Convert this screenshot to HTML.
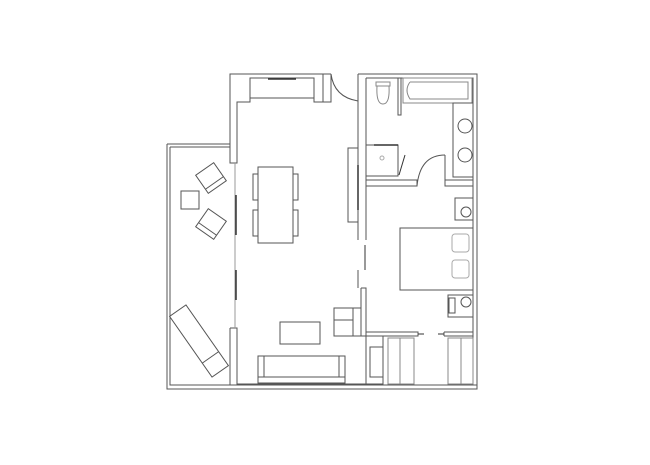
<!DOCTYPE html>
<html><head><meta charset="utf-8"><style>html,body{margin:0;padding:0;background:#fff}svg{display:block}</style></head>
<body>
<svg width="650" height="465" viewBox="0 0 650 465" xmlns="http://www.w3.org/2000/svg">
<g fill="none" stroke="#555" stroke-width="1">
<!-- outer -->
<path d="M167 144 H230 V74 H331"/>
<path d="M358 74 H477 V389 H167 V144"/>
<path d="M170 147 H230 M170 147 V385 H230"/>
<!-- living left wall -->
<path d="M230 74 V163 H237 V102 H250 V78"/>
<path d="M230 328 V385 H237 V328 H230"/>
<path d="M237 385 H383 M237 384 H383"/>
<line x1="235" y1="163" x2="235" y2="328" stroke="#999"/>
<line x1="236" y1="195" x2="236" y2="235" stroke="#333" stroke-width="1.5"/>
<line x1="236" y1="270" x2="236" y2="300" stroke="#333" stroke-width="1.5"/>
<!-- top closet -->
<rect x="250" y="78" width="64" height="20"/>
<line x1="268" y1="79" x2="296" y2="79" stroke="#333" stroke-width="1.5"/>
<path d="M314 78 V102 H323 V78 M323 74 V102 H331 V74"/>
<!-- entry door -->
<path d="M331 74 Q334 97 358 101"/>
<path d="M358 74 V101"/>
<!-- mid wall -->
<path d="M358 74 V240 M366 78 V240"/>
<path d="M358 270 V288 M361 288 V336 H366 V288 H361"/>
<line x1="365" y1="245" x2="365" y2="270" stroke="#333"/>
<rect x="348" y="148" width="10" height="74"/>
<line x1="358" y1="165" x2="358" y2="210" stroke="#333" stroke-width="1.5"/>
<!-- bathroom -->
<path d="M366 78 H473 V384"/>
<path d="M398 78 V115 H401 V78"/>
<path d="M366 180 H417 V186 H366 M445 180 H473 M445 180 V186 H473 M445 155 V180"/>
<path d="M417 186 Q420 155 445 155"/>
<rect x="366" y="145" width="32" height="31"/>
<line x1="374" y1="145" x2="398" y2="145" stroke="#333" stroke-width="1.5"/>
<line x1="399" y1="175" x2="405" y2="155" stroke="#333"/>
<circle cx="382" cy="158" r="2" stroke="#aaa"/>
<path d="M376 82 H390 V86 H376 Z M377 86 Q376 104 383 104 Q390 104 389 86" stroke="#888"/>
<path d="M403 78 H472 V103 H403 Z M410 82 H468 V99 H410 Q404 90 410 82" stroke="#888"/>
<rect x="453" y="103" width="20" height="74"/>
<circle cx="465" cy="126" r="7"/>
<circle cx="465" cy="155" r="7"/>
<!-- bedroom -->
<rect x="455" y="198" width="18" height="22"/>
<circle cx="466" cy="212" r="5"/>
<rect x="400" y="228" width="73" height="62"/>
<rect x="452" y="234" width="17" height="18" rx="3" stroke="#aaa"/>
<rect x="452" y="260" width="17" height="18" rx="3" stroke="#aaa"/>
<rect x="448" y="295" width="25" height="22"/>
<rect x="449" y="298" width="6" height="15"/>
<circle cx="466" cy="302" r="5"/>
<path d="M366 332 H418 V336 H366 M444 332 H473 M444 336 H473 M444 332 V336"/>
<line x1="418" y1="334" x2="424" y2="334" stroke="#333"/>
<line x1="438" y1="334" x2="444" y2="334" stroke="#333"/>
<!-- closets -->
<path d="M366 336 V385 M383 336 V385 H477"/>
<rect x="370" y="347" width="13" height="30"/>
<rect x="388" y="338" width="26" height="46" stroke="#888"/>
<line x1="400" y1="338" x2="400" y2="384" stroke="#888"/>
<rect x="448" y="338" width="25" height="46" stroke="#888"/>
<line x1="461" y1="338" x2="461" y2="384" stroke="#888"/>
<!-- dining -->
<rect x="258" y="167" width="35" height="76"/>
<rect x="253" y="174" width="5" height="26"/><rect x="253" y="210" width="5" height="26"/>
<rect x="293" y="174" width="5" height="26"/><rect x="293" y="210" width="5" height="26"/>
<!-- living furniture -->
<rect x="280" y="322" width="40" height="22"/>
<rect x="258" y="356" width="87" height="27"/>
<path d="M258 377 H345 M264 356 V377 M339 356 V377"/>
<rect x="334" y="308" width="27" height="28"/>
<path d="M334 320 H353 V336 M353 308 V320"/>
<!-- balcony furniture -->
<rect x="181" y="191" width="18" height="18"/>
<g transform="rotate(-35 211 178)"><rect x="200" y="167" width="22" height="22"/><line x1="200" y1="184" x2="222" y2="184"/></g>
<g transform="rotate(35 211 224)"><rect x="200" y="213" width="22" height="22"/><line x1="200" y1="230" x2="222" y2="230"/></g>
<g transform="rotate(-35 199 341)"><rect x="189" y="304" width="20" height="74"/><line x1="189" y1="361" x2="209" y2="361"/></g>
</g>
</svg>
</body></html>
